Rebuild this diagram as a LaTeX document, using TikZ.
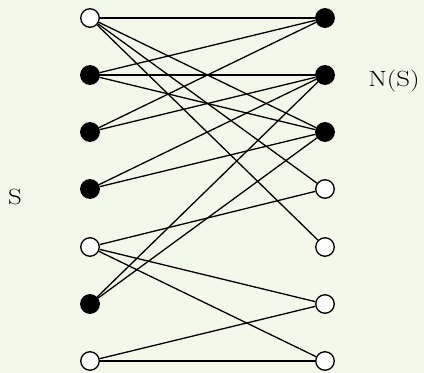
\documentclass[tikz,border=0pt]{standalone}
\usepackage{fontspec}
\usepackage{graphicx}
\definecolor{bgcol}{HTML}{F4F8EA}
\begin{document}
\begin{tikzpicture}[x=1pt,y=1pt,
  vtx/.style={circle,draw=black,line width=1.3pt,minimum size=18.5pt,inner sep=0pt},
  wv/.style={vtx,fill=white},
  bv/.style={vtx,fill=black},
  edge/.style={line width=1.3pt},
  lbl/.style={font=\fontsize{22}{25}\selectfont,inner sep=0pt}]
\fill[bgcol] (0,0) rectangle (424,373);
\useasboundingbox (0,0) rectangle (424,373);
% left column
\node[wv] (L1) at (90,355) {};
\node[bv] (L2) at (90,298) {};
\node[bv] (L3) at (90,241) {};
\node[bv] (L4) at (90,184) {};
\node[wv] (L5) at (90,126) {};
\node[bv] (L6) at (90,69) {};
\node[wv] (L7) at (90,12) {};
% right column
\node[bv] (R1) at (325,355) {};
\node[bv] (R2) at (325,298) {};
\node[bv] (R3) at (325,241) {};
\node[wv] (R4) at (325,184) {};
\node[wv] (R5) at (325,126) {};
\node[wv] (R6) at (325,69) {};
\node[wv] (R7) at (325,12) {};
% labels
\node[lbl] (S) at (15,176) {\scalebox{1.22}[1]{S}};
\node[lbl] (NS) at (394,292) {\scalebox{1.22}[1]{N(S)}};
% edges
\draw[edge] (L1) -- (R1);
\draw[edge] (L1) -- (R3);
\draw[edge] (L1) -- (R4);
\draw[edge] (L1) -- (R5);
\draw[edge] (L2) -- (R1);
\draw[edge] (L2) -- (R2);
\draw[edge] (L2) -- (R3);
\draw[edge] (L3) -- (R1);
\draw[edge] (L3) -- (R2);
\draw[edge] (L4) -- (R2);
\draw[edge] (L4) -- (R3);
\draw[edge] (L5) -- (R4);
\draw[edge] (L5) -- (R6);
\draw[edge] (L5) -- (R7);
\draw[edge] (L6) -- (R2);
\draw[edge] (L6) -- (R3);
\draw[edge] (L7) -- (R6);
\draw[edge] (L7) -- (R7);
\end{tikzpicture}
\end{document}
